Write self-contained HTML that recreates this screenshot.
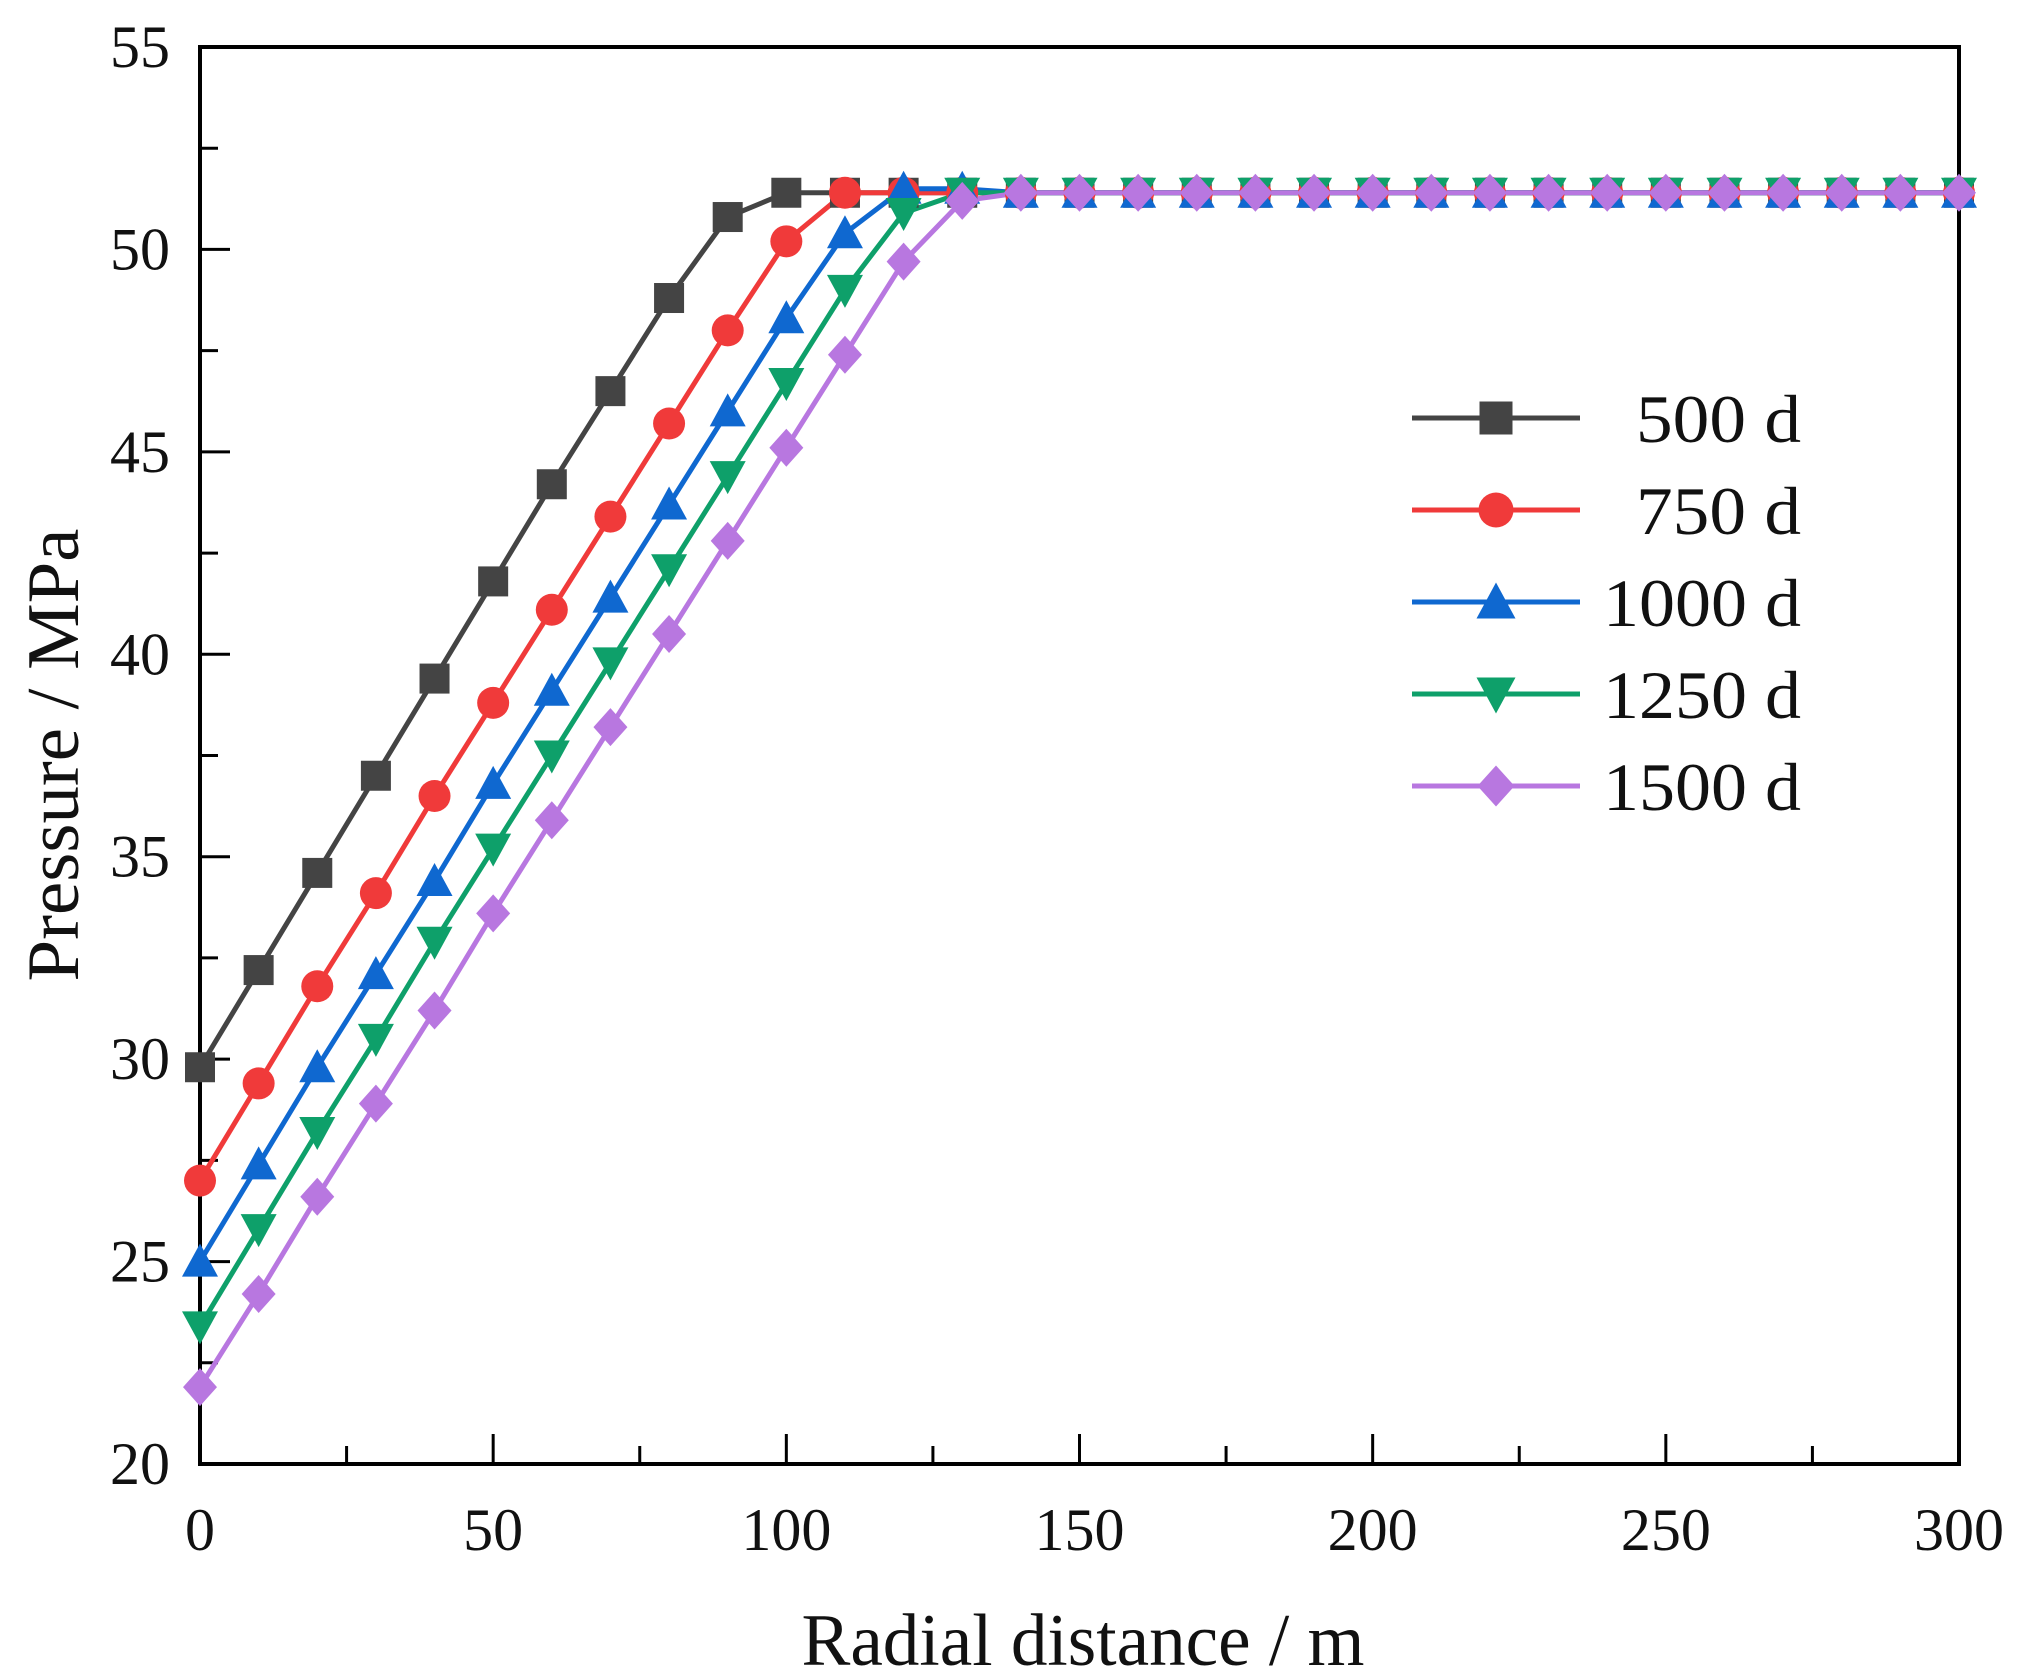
<!DOCTYPE html>
<html><head><meta charset="utf-8"><style>
html,body{margin:0;padding:0;background:#fff}
svg text{font-family:"Liberation Serif",serif;fill:#111}
</style></head><body>
<svg id="s" width="2021" height="1675" xmlns="http://www.w3.org/2000/svg"></svg>
<script>
const s=document.getElementById('s');
const X0=200,X1=1959,Y0=1464,Y1=47;
const fx=v=>X0+(X1-X0)*v/300, fy=v=>Y0-(Y0-Y1)*(v-20)/35;
let h='';
h+=`<rect x="${X0}" y="${Y1}" width="${X1-X0}" height="${Y0-Y1}" fill="none" stroke="#000" stroke-width="4"/>`;
for(let v=0;v<=300;v+=25){const x=fx(v),L=v%50==0?30:18;h+=`<line x1="${x}" y1="${Y0}" x2="${x}" y2="${Y0-L}" stroke="#000" stroke-width="3"/>`;
 if(v%50==0){const tl=String(v).length*30;h+=`<text x="${x}" y="${Y0+86}" font-size="60" text-anchor="middle" textLength="${tl}" lengthAdjust="spacingAndGlyphs">${v}</text>`;}}
for(let v=20;v<=55;v+=2.5){const y=fy(v),L=(v%5==0)?30:18;h+=`<line x1="${X0}" y1="${y}" x2="${X0+L}" y2="${y}" stroke="#000" stroke-width="3"/>`;
 if(v%5==0)h+=`<text x="170" y="${y+20}" font-size="60" text-anchor="end" textLength="60" lengthAdjust="spacingAndGlyphs">${v}</text>`;}
h+=`<text x="1083" y="1665" font-size="74" text-anchor="middle" textLength="563" lengthAdjust="spacingAndGlyphs">Radial distance / m</text>`;
h+=`<text transform="translate(78,755) rotate(-90)" font-size="74" text-anchor="middle" textLength="453" lengthAdjust="spacingAndGlyphs">Pressure / MPa</text>`;
const S=[
{c:'#444444',m:'sq',d:[29.8,32.2,34.6,37.0,39.4,41.8,44.2,46.5,48.8,50.8,51.4],n:'500 d'},
{c:'#f03a3a',m:'ci',d:[27.0,29.4,31.8,34.1,36.5,38.8,41.1,43.4,45.7,48.0,50.2,51.4],n:'750 d'},
{c:'#0f68d0',m:'tu',d:[25.0,27.4,29.8,32.1,34.4,36.8,39.1,41.4,43.7,46.0,48.3,50.4,51.5,51.5],n:'1000 d'},
{c:'#0ea06a',m:'td',d:[23.4,25.8,28.2,30.5,32.9,35.2,37.5,39.8,42.1,44.4,46.7,49.0,50.9,51.4],n:'1250 d'},
{c:'#b877e0',m:'di',d:[21.9,24.2,26.6,28.9,31.2,33.6,35.9,38.2,40.5,42.8,45.1,47.4,49.7,51.2],n:'1500 d'}];
function mk(t,x,y,c,k){const r=15*(k||1);
 if(t=='sq')return `<rect x="${x-r}" y="${y-r}" width="${2*r}" height="${2*r}" fill="${c}"/>`;
 if(t=='ci')return `<circle cx="${x}" cy="${y}" r="${r+1}" fill="${c}"/>`;
 if(t=='tu')return `<polygon points="${x},${y-r-3} ${x+r+3},${y+r} ${x-r-3},${y+r}" fill="${c}"/>`;
 if(t=='td')return `<polygon points="${x},${y+r+3} ${x+r+3},${y-r} ${x-r-3},${y-r}" fill="${c}"/>`;
 return `<polygon points="${x},${y-r-4} ${x+r+2},${y} ${x},${y+r+4} ${x-r-2},${y}" fill="${c}"/>`;}
S.forEach(o=>{const d=o.d.slice();while(d.length<31)d.push(51.4);o.full=d;
 h+=`<polyline fill="none" stroke="${o.c}" stroke-width="5" points="${d.map((v,i)=>fx(i*10)+','+fy(v)).join(' ')}"/>`;});
S.forEach(o=>{o.full.forEach((v,i)=>{h+=mk(o.m,fx(i*10),fy(v),o.c);});});
S.forEach((o,i)=>{const y=418+i*92;h+=`<line x1="1412" y1="${y}" x2="1580" y2="${y}" stroke="${o.c}" stroke-width="5"/>`+mk(o.m,1496,y,o.c,1.1)+
 `<text x="1801" y="${y+24}" font-size="68" text-anchor="end" textLength="${o.n.length*33}" lengthAdjust="spacingAndGlyphs">${o.n}</text>`;});
s.innerHTML=h;
</script>
</body></html>
